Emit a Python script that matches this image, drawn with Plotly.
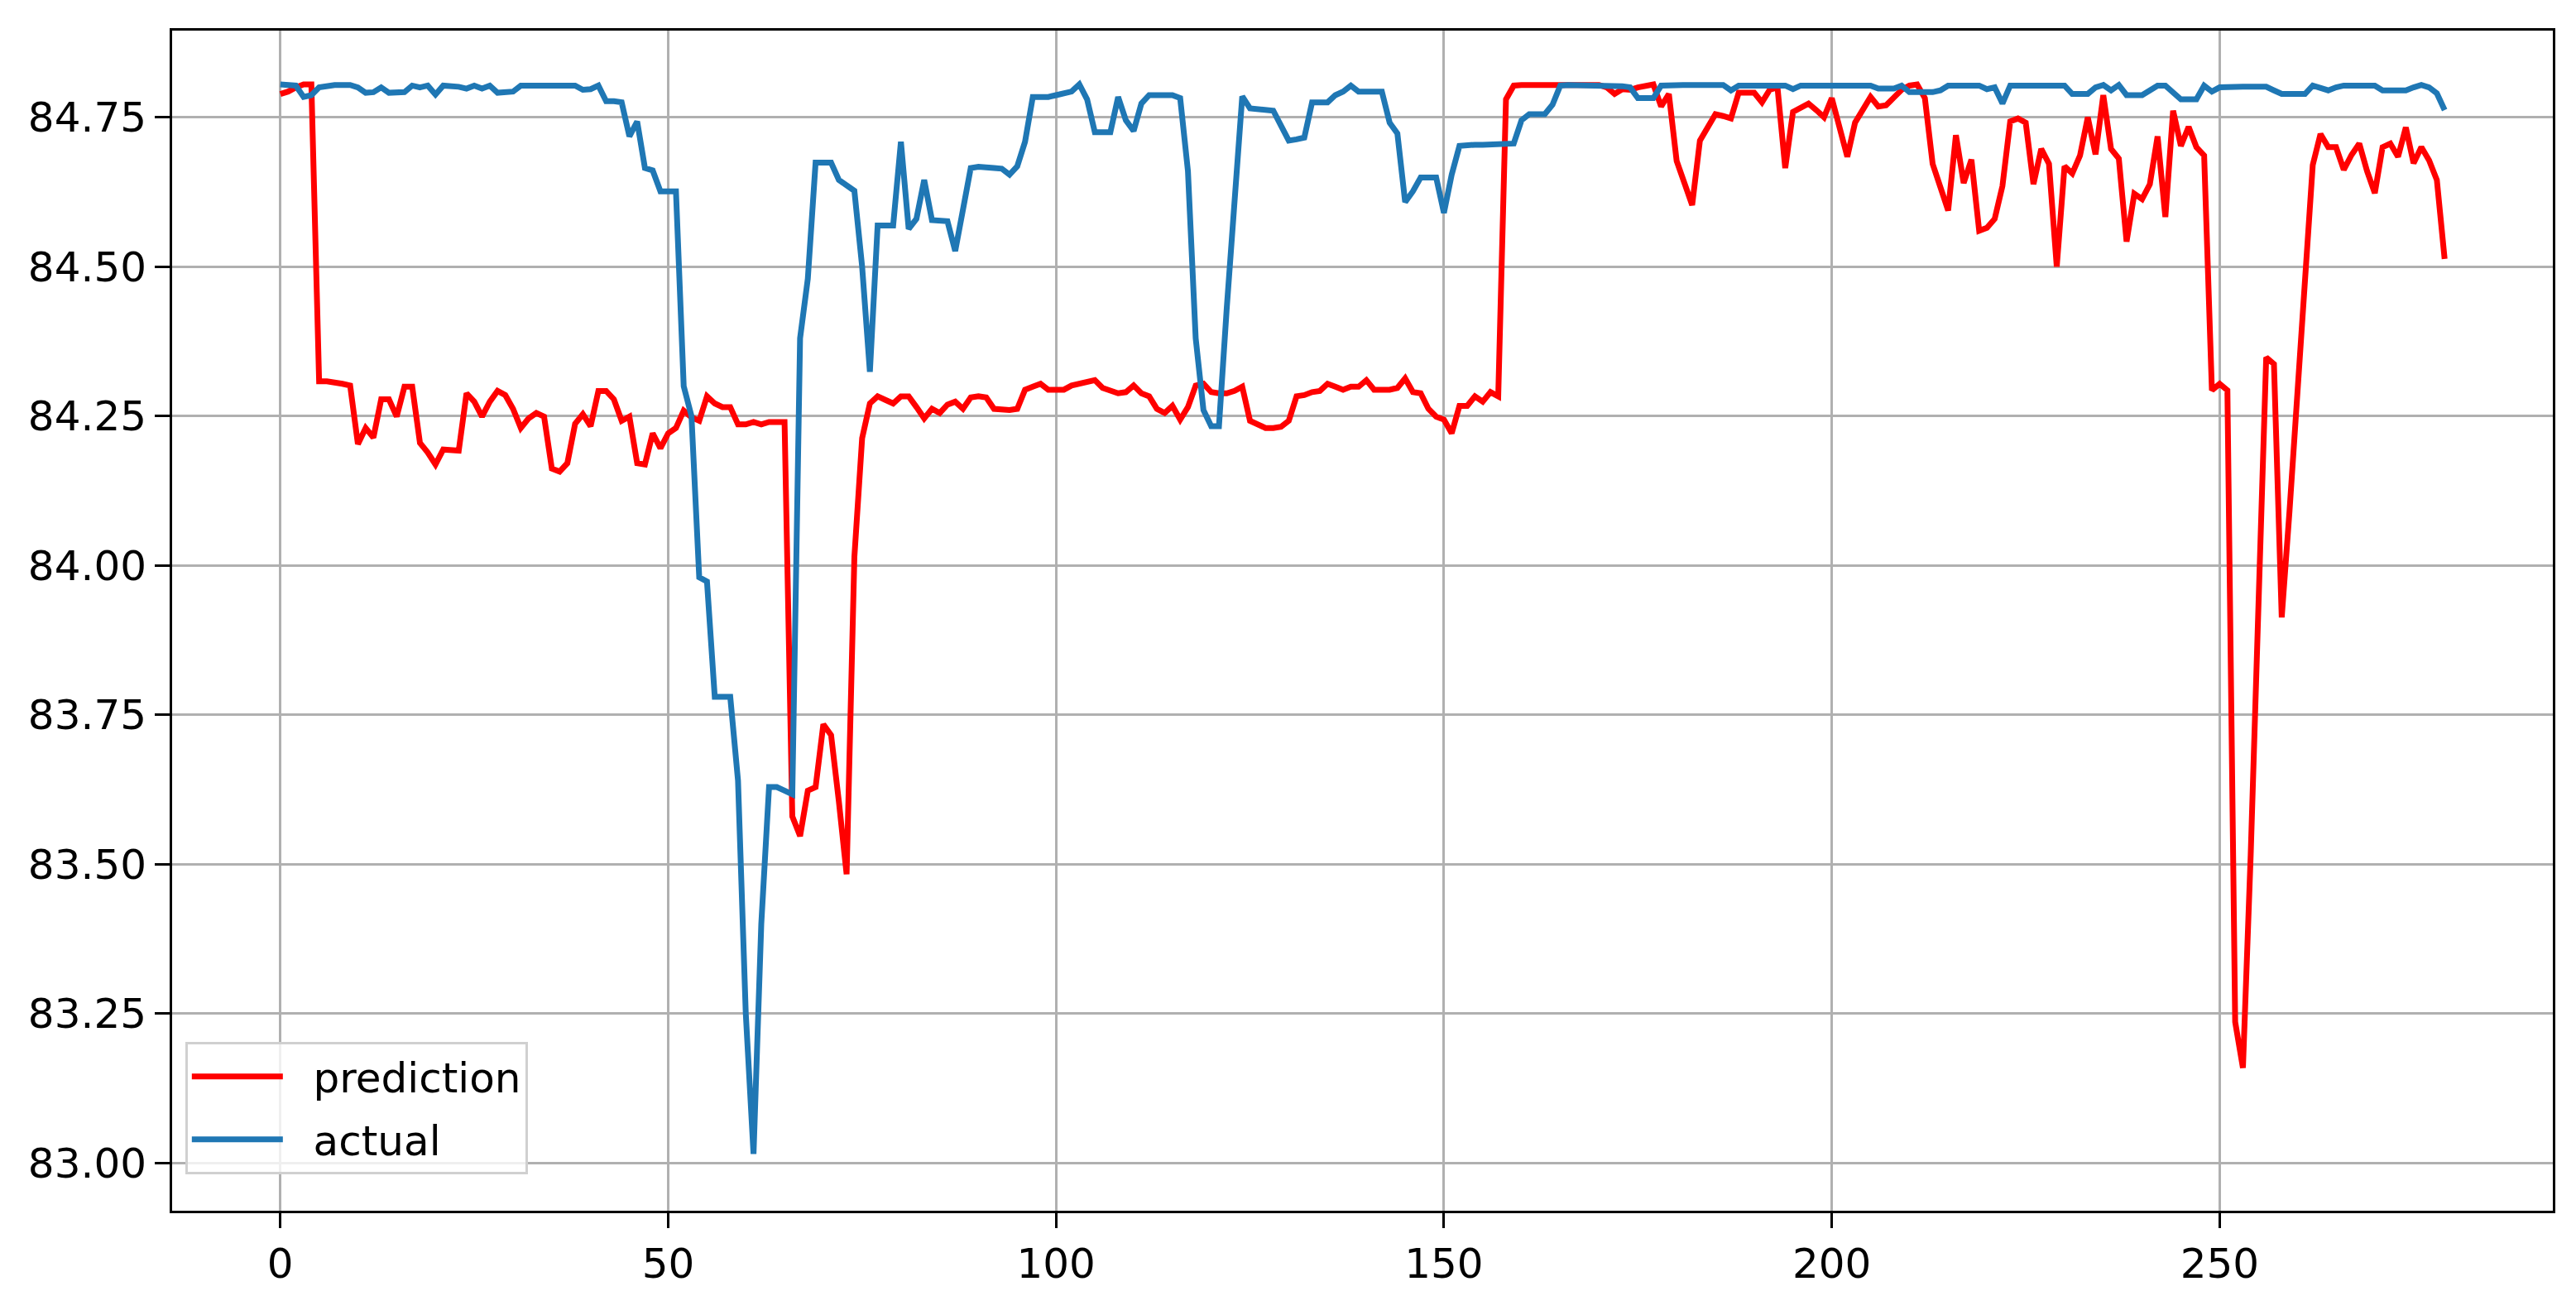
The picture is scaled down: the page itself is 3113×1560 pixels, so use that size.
import plotly.graph_objects as go

# model output vs measured value, one sample per step
prediction = [
    84.789, 84.793, 84.800, 84.805, 84.805, 84.308, 84.308, 84.307, 84.304, 84.301,
    84.203, 84.230, 84.214, 84.278, 84.278, 84.249, 84.299, 84.299, 84.205, 84.189,
    84.169, 84.194, 84.192, 84.192, 84.288, 84.274, 84.249, 84.274, 84.292, 84.285,
    84.262, 84.230, 84.246, 84.255, 84.249, 84.162, 84.157, 84.171, 84.237, 84.253,
    84.233, 84.292, 84.292, 84.278, 84.242, 84.249, 84.171, 84.169, 84.221, 84.196,
    84.221, 84.230, 84.259, 84.248, 84.242, 84.283, 84.271, 84.265, 84.265, 84.236,
    84.236, 84.240, 84.236, 84.240, 84.240, 84.240, 83.580, 83.547, 83.623, 83.629,
    83.734, 83.716, 83.605, 83.483, 84.014, 84.213, 84.271, 84.283, 84.277, 84.271,
    84.283, 84.283, 84.265, 84.246, 84.262, 84.255, 84.269, 84.274, 84.262, 84.281,
    84.283, 84.281, 84.262, 84.260, 84.260, 84.262, 84.294, 84.299, 84.304, 84.294,
    84.294, 84.294, 84.301, 84.304, 84.306, 84.310, 84.297, 84.292, 84.288, 84.290,
    84.301, 84.288, 84.283, 84.262, 84.255, 84.267, 84.244, 84.265, 84.301, 84.304,
    84.290, 84.288, 84.288, 84.292, 84.299, 84.242, 84.235, 84.230, 84.230, 84.232,
    84.242, 84.283, 84.285, 84.290, 84.292, 84.304, 84.299, 84.294, 84.299, 84.299,
    84.310, 84.294, 84.294, 84.294, 84.297, 84.313, 84.290, 84.288, 84.262, 84.249,
    84.244, 84.221, 84.267, 84.267, 84.283, 84.274, 84.290, 84.283, 84.780, 84.803,
    84.804, 84.804, 84.804, 84.804, 84.804, 84.804, 84.804, 84.804, 84.804, 84.804,
    84.804, 84.800, 84.789, 84.797, 84.796, 84.800, 84.803, 84.805, 84.768, 84.789,
    84.677, 84.640, 84.603, 84.711, 84.733, 84.755, 84.752, 84.748, 84.791, 84.791,
    84.791, 84.775, 84.796, 84.800, 84.665, 84.759, 84.766, 84.773, 84.762, 84.750,
    84.782, 84.733, 84.684, 84.741, 84.762, 84.784, 84.768, 84.770, 84.783, 84.796,
    84.803, 84.805, 84.782, 84.672, 84.633, 84.594, 84.720, 84.640, 84.679, 84.560,
    84.565, 84.580, 84.635, 84.743, 84.748, 84.741, 84.638, 84.697, 84.672, 84.500,
    84.668, 84.656, 84.686, 84.750, 84.688, 84.787, 84.697, 84.681, 84.542, 84.622,
    84.613, 84.638, 84.718, 84.583, 84.761, 84.702, 84.734, 84.700, 84.686, 84.293,
    84.304, 84.293, 83.236, 83.159, 83.515, 83.947, 84.348, 84.337, 83.913, 84.090,
    84.280, 84.490, 84.670, 84.722, 84.700, 84.700, 84.662, 84.687, 84.706, 84.660,
    84.623, 84.700, 84.706, 84.684, 84.733, 84.673, 84.700, 84.678, 84.645, 84.513,
]

actual = [
    84.805, 84.805, 84.803, 84.784, 84.787, 84.800, 84.803, 84.804, 84.804, 84.804,
    84.800, 84.791, 84.792, 84.800, 84.791, 84.791, 84.792, 84.803, 84.800, 84.803,
    84.788, 84.803, 84.803, 84.801, 84.798, 84.803, 84.798, 84.803, 84.791, 84.791,
    84.793, 84.803, 84.803, 84.804, 84.804, 84.804, 84.804, 84.804, 84.803, 84.796,
    84.797, 84.803, 84.777, 84.777, 84.775, 84.718, 84.743, 84.665, 84.661, 84.626,
    84.626, 84.626, 84.300, 84.250, 83.980, 83.973, 83.780, 83.780, 83.780, 83.640,
    83.250, 83.015, 83.400, 83.629, 83.629, 83.623, 83.617, 84.380, 84.480, 84.674,
    84.674, 84.674, 84.645, 84.636, 84.627, 84.500, 84.324, 84.569, 84.569, 84.569,
    84.709, 84.563, 84.580, 84.645, 84.578, 84.578, 84.576, 84.526, 84.600, 84.665,
    84.667, 84.667, 84.665, 84.664, 84.654, 84.668, 84.709, 84.784, 84.784, 84.784,
    84.787, 84.791, 84.793, 84.805, 84.780, 84.725, 84.725, 84.725, 84.784, 84.745,
    84.727, 84.773, 84.787, 84.787, 84.787, 84.787, 84.782, 84.660, 84.380, 84.260,
    84.233, 84.233, 84.430, 84.600, 84.785, 84.765, 84.764, 84.764, 84.761, 84.736,
    84.711, 84.713, 84.716, 84.775, 84.775, 84.775, 84.787, 84.793, 84.803, 84.793,
    84.793, 84.793, 84.793, 84.741, 84.723, 84.608, 84.626, 84.649, 84.649, 84.649,
    84.590, 84.654, 84.702, 84.704, 84.704, 84.704, 84.704, 84.704, 84.704, 84.706,
    84.745, 84.755, 84.755, 84.755, 84.771, 84.803, 84.804, 84.804, 84.804, 84.804,
    84.804, 84.804, 84.804, 84.802, 84.800, 84.782, 84.782, 84.782, 84.803, 84.804,
    84.804, 84.804, 84.804, 84.804, 84.804, 84.804, 84.804, 84.795, 84.803, 84.803,
    84.803, 84.803, 84.803, 84.803, 84.803, 84.797, 84.803, 84.803, 84.803, 84.803,
    84.803, 84.803, 84.803, 84.803, 84.803, 84.803, 84.798, 84.798, 84.798, 84.803,
    84.792, 84.792, 84.792, 84.792, 84.795, 84.803, 84.803, 84.803, 84.803, 84.803,
    84.797, 84.800, 84.773, 84.803, 84.803, 84.803, 84.803, 84.803, 84.803, 84.803,
    84.803, 84.789, 84.789, 84.789, 84.800, 84.804, 84.795, 84.804, 84.787, 84.787,
    84.787, 84.795, 84.803, 84.803, 84.790, 84.780, 84.780, 84.780, 84.803, 84.793,
    84.800, 84.801, 84.801, 84.801, 84.801, 84.801, 84.801, 84.795, 84.789, 84.789,
    84.789, 84.789, 84.803, 84.800, 84.795, 84.800, 84.803, 84.803, 84.803, 84.803,
    84.803, 84.795, 84.795, 84.795, 84.795, 84.800, 84.804, 84.800, 84.790, 84.762,
]

steps = list(range(len(prediction)))

font = "DejaVu Sans"
gap = "\u00a0\u00a0"  # little space between legend line and label

fig = go.Figure()
fig.add_trace(go.Scatter(x=steps, y=prediction, mode="lines", name=gap + "prediction",
                         legendgroup="p", line=dict(color="#ff0000", width=7)))
fig.add_trace(go.Scatter(x=steps, y=actual, mode="lines", name=gap + "actual",
                         legendgroup="a", line=dict(color="#1f77b4", width=7)))

axis_style = dict(
    showgrid=True, gridcolor="#b0b0b0", gridwidth=3,
    showline=True, linecolor="black", linewidth=3, mirror=True,
    ticks="outside", ticklen=18, tickwidth=3, tickcolor="black",
    zeroline=False, tickfont=dict(family=font, size=50, color="black"),
)

fig.update_xaxes(range=[-13.95, 292.95], tick0=0, dtick=50, **axis_style)
fig.update_yaxes(range=[82.92, 84.895], tick0=83, dtick=0.25, tickformat=".2f",
                 **axis_style)

fig.update_layout(
    width=3113, height=1560,
    margin=dict(l=200, r=36, t=29, b=101),
    paper_bgcolor="white", plot_bgcolor="white",
    font=dict(family=font, size=50, color="black"),
    legend=dict(x=0.0055, y=0.031, xanchor="left", yanchor="bottom",
                bgcolor="rgba(255,255,255,0.8)", bordercolor="#d0d0d0",
                borderwidth=3, itemwidth=110, tracegroupgap=8,
                font=dict(size=50)),
)

fig.write_html("out.html")
